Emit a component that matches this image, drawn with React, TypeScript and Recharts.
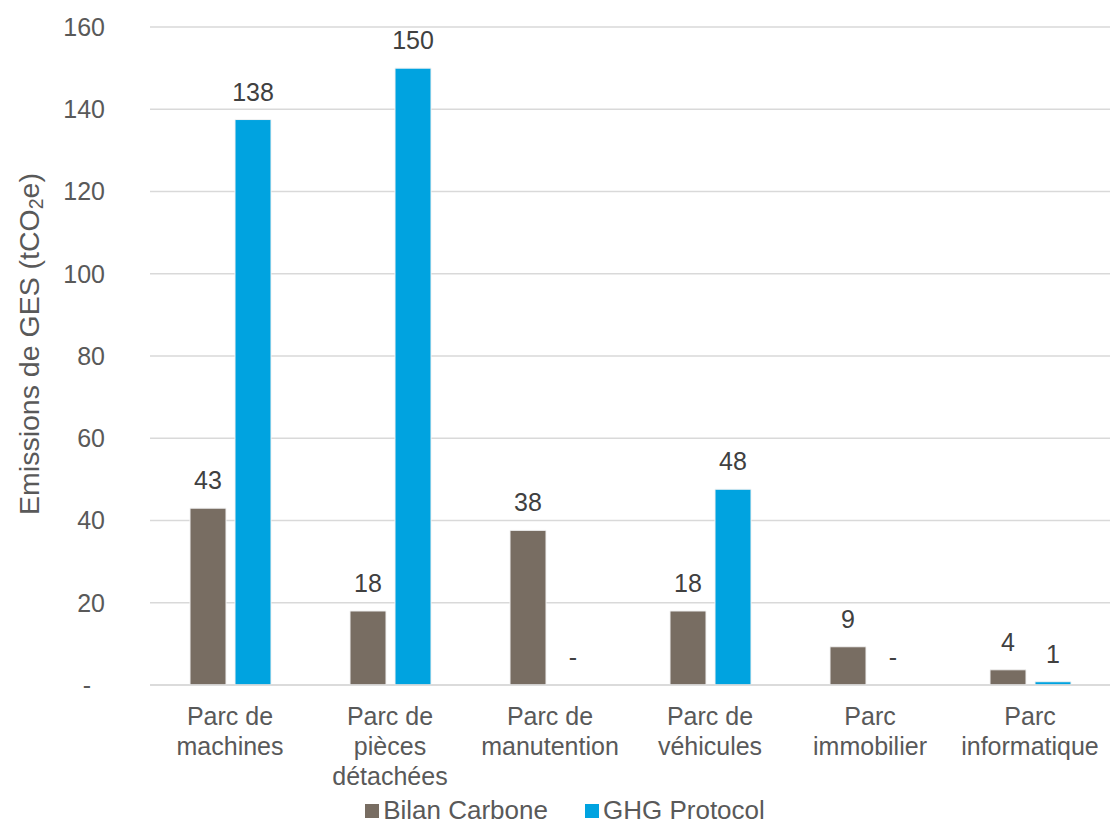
import React from 'react';
import { BarChart, Bar, XAxis, YAxis, CartesianGrid, Legend, LabelList, Cell } from 'recharts';

const categories = [
  'Parc de|machines',
  'Parc de|pièces|détachées',
  'Parc de|manutention',
  'Parc de|véhicules',
  'Parc|immobilier',
  'Parc|informatique',
];
const bilanCarbone = [43, 18, 37.6, 18, 9.3, 3.7];
const ghgProtocol = [137.5, 150, 0, 47.6, 0, 0.8];
const yTicks = [0, 20, 40, 60, 80, 100, 120, 140, 160];

const BROWN = '#786d62';
const BLUE = '#00a3e0';
const TEXT = '#595959';
const FONT = '"Liberation Sans", Arial, sans-serif';

const data = categories.map((name, i) => ({
  name,
  bilan: bilanCarbone[i],
  ghg: ghgProtocol[i],
}));

const fmt = (v: any) => {
  const n = Math.round(Number(v));
  return n === 0 ? '-' : String(n);
};

const CategoryTick = (props: any) => {
  const { x, y, payload } = props;
  const lines = String(payload.value).split('|');
  return (
    <text x={x} y={y} textAnchor="middle" fill={TEXT} fontSize={25} fontFamily={FONT}>
      {lines.map((line, i) => (
        <tspan key={i} x={x} dy={i === 0 ? 32 : 30}>
          {line}
        </tspan>
      ))}
    </text>
  );
};

const YLabel = () => {
  const cx = 29;
  const cy = 344;
  return (
    <text
      x={cx}
      y={cy}
      transform={`rotate(-90, ${cx}, ${cy})`}
      textAnchor="middle"
      dominantBaseline="central"
      fill={TEXT}
      fontSize={28.5}
      fontFamily={FONT}
    >
      Emissions de GES (tCO
      <tspan fontSize={19.5} dy={7}>2</tspan>
      <tspan dy={-7}>e)</tspan>
    </text>
  );
};

const LegendContent = () => {
  const items = [
    { label: 'Bilan Carbone', color: BROWN },
    { label: 'GHG Protocol', color: BLUE },
  ];
  return (
    <div
      style={{
        display: 'flex',
        justifyContent: 'center',
        gap: 37,
        paddingLeft: 20,
        paddingTop: 16,
        lineHeight: '29px',
        fontFamily: FONT,
        fontSize: 26,
        color: TEXT,
      }}
    >
      {items.map((it) => (
        <div key={it.label} style={{ display: 'flex', alignItems: 'center' }}>
          <span style={{ display: 'inline-block', width: 14, height: 14, background: it.color, marginRight: 4 }} />
          <span>{it.label}</span>
        </div>
      ))}
    </div>
  );
};

// a zero bar still needs a tiny height so its "-" label gets drawn
const keepZero = (v: any) => (Number(v) === 0 ? 0.01 : 0);

export default function App() {
  return (
    <div style={{ position: 'absolute', left: 0, top: 0, background: '#fff' }}>
      <BarChart
        width={1111}
        height={825}
        data={data}
        margin={{ top: 27, right: 1, left: 0, bottom: 0 }}
        barSize={36}
        barGap={9}
      >
        <CartesianGrid vertical={false} stroke="#d9d9d9" strokeWidth={1.5} />
        <XAxis
          dataKey="name"
          axisLine={{ stroke: '#d9d9d9', strokeWidth: 1.5 }}
          tickLine={false}
          interval={0}
          height={95}
          tick={<CategoryTick />}
        />
        <YAxis
          width={150}
          domain={[0, 160]}
          ticks={yTicks}
          axisLine={false}
          tickLine={false}
          tickMargin={39}
          tickFormatter={(v: any) => (v === 0 ? '-\u00a0\u00a0' : String(v))}
          tick={{ fill: TEXT, fontSize: 25, fontFamily: FONT }}
          label={{ content: <YLabel /> }}
        />
        <Legend verticalAlign="bottom" align="center" content={<LegendContent />} />
        <Bar
          dataKey="bilan"
          fill={BROWN}
          strokeWidth={1}
          minPointSize={keepZero}
          isAnimationActive={false}
        >
          {bilanCarbone.map((v, i) => (
            <Cell key={i} stroke={v === 0 ? 'none' : '#f2f2f2'} />
          ))}
          <LabelList
            dataKey="bilan"
            position="top"
            offset={19}
            formatter={fmt}
            fill="#404040"
            fontSize={25}
            fontFamily={FONT}
          />
        </Bar>
        <Bar
          dataKey="ghg"
          fill={BLUE}
          strokeWidth={1}
          minPointSize={keepZero}
          isAnimationActive={false}
        >
          {ghgProtocol.map((v, i) => (
            <Cell key={i} stroke={v === 0 ? 'none' : '#f2f2f2'} />
          ))}
          <LabelList
            dataKey="ghg"
            position="top"
            offset={19}
            formatter={fmt}
            fill="#404040"
            fontSize={25}
            fontFamily={FONT}
          />
        </Bar>
      </BarChart>
    </div>
  );
}
